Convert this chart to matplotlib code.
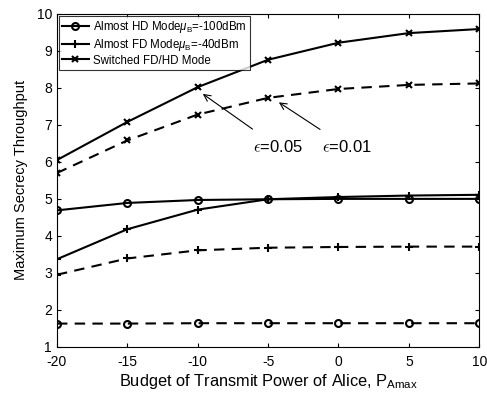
import matplotlib
matplotlib.use("Agg")
import matplotlib.pyplot as plt

plt.rcParams['font.family'] = ['Liberation Sans', 'DejaVu Sans']
plt.rcParams['mathtext.fontset'] = 'custom'
plt.rcParams['mathtext.rm'] = 'Liberation Sans'
plt.rcParams['mathtext.it'] = 'Liberation Sans:italic'
plt.rcParams['axes.unicode_minus'] = False

x = [-20, -15, -10, -5, 0, 5, 10]

hd_05 = [4.69, 4.89, 4.97, 4.99, 5.0, 5.0, 5.0]
hd_01 = [1.63, 1.63, 1.64, 1.64, 1.64, 1.64, 1.64]
fd_05 = [3.37, 4.18, 4.71, 4.99, 5.05, 5.09, 5.11]
fd_01 = [2.95, 3.39, 3.61, 3.68, 3.7, 3.71, 3.71]
sw_05 = [6.05, 7.08, 8.02, 8.76, 9.22, 9.48, 9.59]
sw_01 = [5.7, 6.58, 7.28, 7.73, 7.97, 8.08, 8.12]

fig = plt.figure(figsize=(4.87, 3.96), dpi=100)
ax = fig.add_axes([0.117, 0.124, 0.867, 0.841])

lw = 1.5
ms = 5
dash = (0, (5, 3.5))

ax.plot(x, hd_05, 'k-', marker='o', mfc='none', mew=1.5, ms=ms, lw=lw,
        label=r'Almost HD Mode$\mu_{\rm B}$=-100dBm')
ax.plot(x, fd_05, 'k-', marker='+', mew=1.5, ms=6, lw=lw,
        label=r'Almost FD Mode$\mu_{\rm B}$=-40dBm')
ax.plot(x, sw_05, 'k-', marker='x', mew=1.5, ms=ms, lw=lw,
        label='Switched FD/HD Mode')
ax.plot(x, hd_01, color='k', ls=dash, marker='o', mfc='none', mew=1.5, ms=ms, lw=lw)
ax.plot(x, fd_01, color='k', ls=dash, marker='+', mew=1.5, ms=6, lw=lw)
ax.plot(x, sw_01, color='k', ls=dash, marker='x', mew=1.5, ms=ms, lw=lw)

ax.annotate(r'$\epsilon$=0.05', xy=(-9.8, 7.88), xytext=(-4.3, 6.4),
            ha='center', va='center', fontsize=12, math_fontfamily='cm',
            arrowprops=dict(arrowstyle='->', color='k', lw=0.8, shrinkA=9))
ax.annotate(r'$\epsilon$=0.01', xy=(-4.4, 7.65), xytext=(0.6, 6.4),
            ha='center', va='center', fontsize=12, math_fontfamily='cm',
            arrowprops=dict(arrowstyle='->', color='k', lw=0.8, shrinkA=9))

ax.set_xlim(-20, 10)
ax.set_ylim(1, 10)
ax.set_xticks(x)
ax.set_yticks(range(1, 11))
ax.tick_params(direction='in', top=True, right=True, labelsize=10, length=3, width=0.8)
ax.tick_params(axis='x', pad=6)
for s in ax.spines.values():
    s.set_linewidth(0.8)
ax.set_xlabel(r'Budget of Transmit Power of Alice, P$_{\rm Amax}$', fontsize=11.8, labelpad=2)
ax.set_ylabel('Maximum Secrecy Throughput', fontsize=10.5, labelpad=6)

leg = ax.legend(loc='upper left', fontsize=8.3, fancybox=False, edgecolor='k',
                borderaxespad=0.15, handlelength=2.3, labelspacing=0.15,
                borderpad=0.3, handletextpad=0.4)
leg.get_frame().set_linewidth(0.8)

fig.savefig('out.png', dpi=100)
